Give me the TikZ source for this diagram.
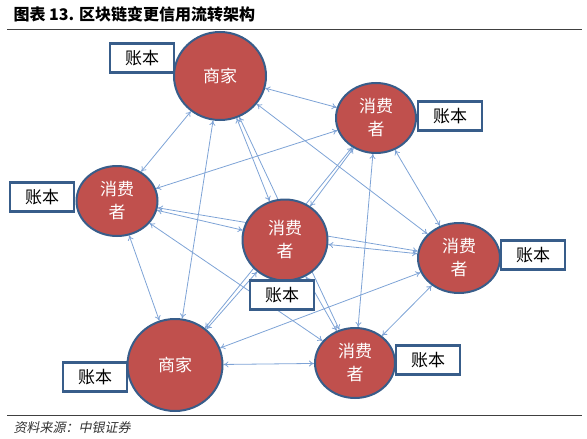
\documentclass[tikz,border=0pt]{standalone}
\usepackage{fontspec}
\newfontfamily\cjk{Noto Sans CJK SC}
\newfontfamily\cjkit[FakeSlant=0.2]{Noto Sans CJK SC}
\usepackage{tikz}
\usetikzlibrary{arrows.meta,shapes.geometric}
\pgfdeclarelayer{back}
\pgfsetlayers{back,main}
\definecolor{PartyRed}{HTML}{C0504D}
\definecolor{RimBlue}{HTML}{385D8A}
\definecolor{LinkBlue}{HTML}{7EA3D6}
\newcommand\BoxW{64pt}
\newcommand\BoxH{29pt}
\newcommand\LeftX{7}
\newcommand\RightX{582}
\tikzstyle{party}=[ellipse,draw=RimBlue,fill=PartyRed,line width=2pt,
                     inner sep=0pt,text=white,align=center,
                     font=\cjk\fontsize{17}{23}\selectfont]
\tikzstyle{ledger}=[rectangle,draw=RimBlue,fill=white,line width=2.2pt,
                     minimum width=\BoxW,minimum height=\BoxH,
                     font=\cjk\fontsize{17}{20}\selectfont]
\tikzstyle{link}=[LinkBlue,line width=0.8pt,
                     {To[length=5pt,width=6pt]}-{To[length=5pt,width=6pt]}]

\begin{document}
\begin{tikzpicture}[x=1pt,y=-1pt]
      \useasboundingbox (0,0) rectangle (587,439);
      % title and source
      \node[anchor=west,font=\cjk\bfseries\fontsize{16}{18}\selectfont] (title) at (10,14) {图表 13. 区块链变更信用流转架构};
      \coordinate (topL) at (\LeftX,29);
      \coordinate (topR) at (\RightX,29);
      \draw[line width=1pt,black!75] (topL) -- (topR);
      \coordinate (botL) at (\LeftX,415);
      \coordinate (botR) at (\RightX,415);
      \draw[line width=1pt,black!75] (botL) -- (botR);
      \node[anchor=west,font=\cjkit\fontsize{13}{15}\selectfont,black!80] (source) at (10,428) {资料来源：中银证券};
      % parties
      \node[party,minimum width=92pt,minimum height=88pt] (shopT) at (220,76) {商家};
      \node[party,minimum width=80pt,minimum height=70pt] (userTR) at (376,118) {消费\\者};
      \node[party,minimum width=81pt,minimum height=70pt] (userL) at (117,201) {消费\\者};
      \node[party,minimum width=85pt,minimum height=81pt] (userM) at (285,240) {消费\\者};
      \node[party,minimum width=82pt,minimum height=70pt] (userR) at (459,258) {消费\\者};
      \node[party,minimum width=95pt,minimum height=92pt] (shopB) at (175,365) {商家};
      \node[party,minimum width=80pt,minimum height=70pt] (userBR) at (355,363) {消费\\者};
      % every pair trades
      \begin{pgfonlayer}{back}
      \foreach \a/\b in {shopT/userTR,shopT/userL,shopT/userM,shopT/userR,shopT/shopB,shopT/userBR,
                         userTR/userL,userTR/userM,userTR/userR,userTR/shopB,userTR/userBR,
                         userL/userM,userL/userR,userL/shopB,userL/userBR,
                         userM/userR,userM/shopB,userM/userBR,
                         userR/shopB,userR/userBR,
                         shopB/userBR}
         \draw[link] (\a) -- (\b);
      \end{pgfonlayer}
      % ledgers
      \node[ledger] (bookT) at (142,58) {账本};
      \node[ledger] (bookTR) at (450,116) {账本};
      \node[ledger] (bookL) at (42,197) {账本};
      \node[ledger] (bookM) at (282,295) {账本};
      \node[ledger] (bookR) at (533,255) {账本};
      \node[ledger] (bookB) at (95,377) {账本};
      \node[ledger] (bookBR) at (428,360) {账本};
   \end{tikzpicture}
\end{document}
